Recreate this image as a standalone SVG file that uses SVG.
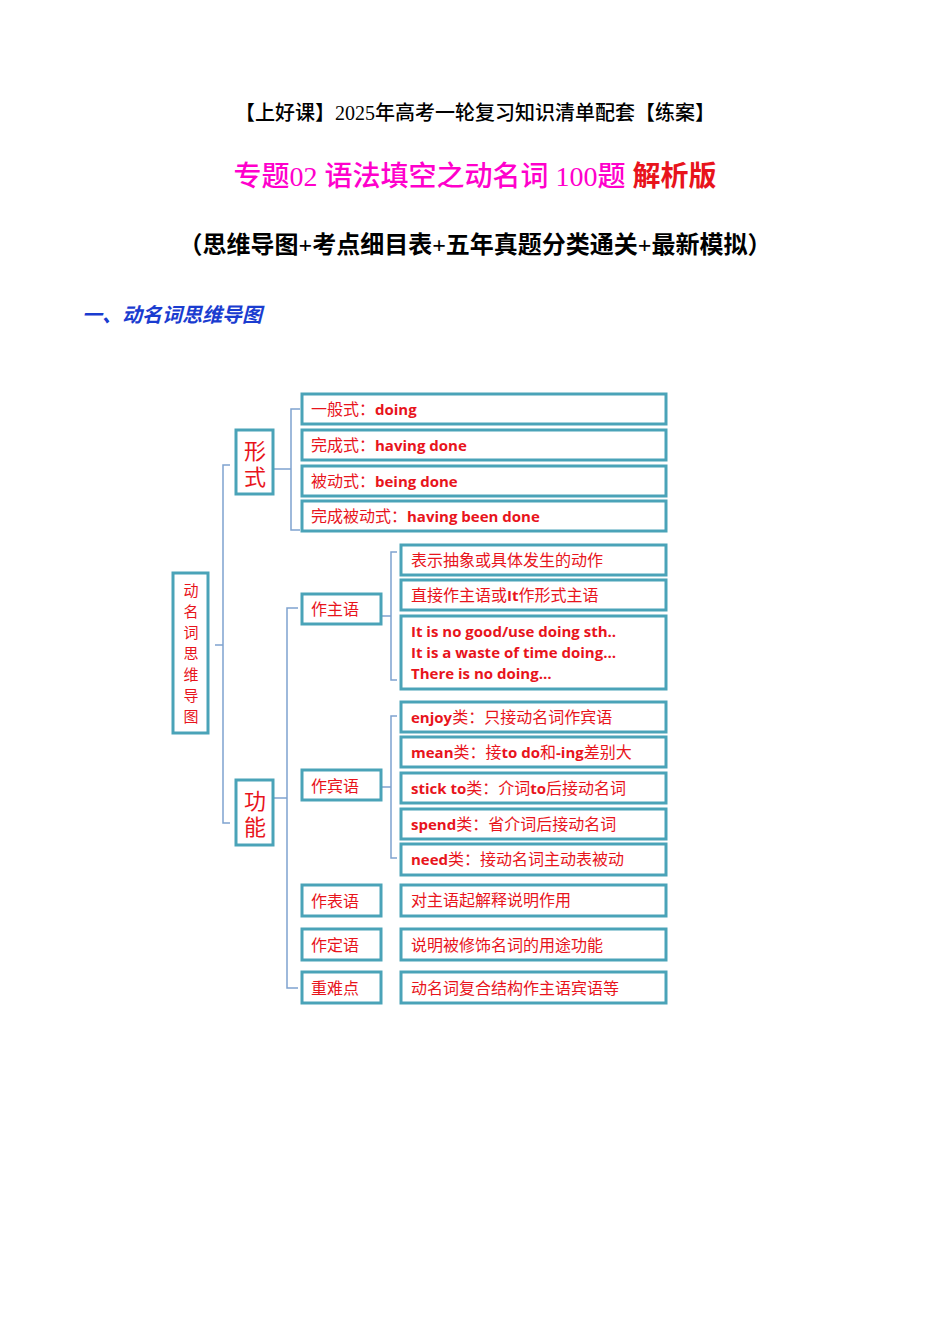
<svg xmlns="http://www.w3.org/2000/svg" width="950" height="1344" viewBox="0 0 950 1344">
<style>
.b{fill:#fff;stroke:#4aa3b8;stroke-width:3}
.t{fill:#e8141c;font-family:"Noto Sans CJK SC","Liberation Serif",serif;font-size:16px}
.r{font-size:15px}
.big{font-size:22px}
.e{font-family:"Open Sans","Noto Sans",sans-serif;font-weight:bold;font-size:15px}
.c{fill:none;stroke:#7fa3cf;stroke-width:1.5}
</style>
<rect width="950" height="1344" fill="#fff"/>
<text x="475" y="120" text-anchor="middle" font-family="Liberation Serif,Noto Sans CJK SC,serif" font-size="20" font-weight="500">【上好课】2025年高考一轮复习知识清单配套【练案】</text>
<text x="475" y="186" text-anchor="middle" font-family="Liberation Serif,Noto Sans CJK SC,serif" font-size="28" font-weight="500" fill="#ff00cc">专题02 语法填空之动名词 100题 <tspan fill="#e8141c" font-weight="bold">解析版</tspan></text>
<text x="475" y="253" text-anchor="middle" font-family="Liberation Serif,Noto Sans CJK SC,serif" font-size="24" font-weight="bold">（思维导图+考点细目表+五年真题分类通关+最新模拟）</text>
<text x="82" y="322" font-family="Noto Sans CJK SC,sans-serif" font-size="20" font-weight="bold" font-style="italic" fill="#1a3cd0">一、动名词思维导图</text>
<g id="connectors">
<path class="c" d="M230 465H223V823H230M215 645H223"/>
<path class="c" d="M300 409H291V530H300M274 469H291"/>
<path class="c" d="M298 608H287V988H298M274 798H287"/>
<path class="c" d="M397 552H391V680H397M382 616H391"/>
<path class="c" d="M397 716H391V858H397M382 787H391"/>
</g>
<g id="root"><rect class="b" x="173" y="573" width="35" height="160"/>
<text class="t r" x="191" y="596" text-anchor="middle">动</text><text class="t r" x="191" y="617" text-anchor="middle">名</text><text class="t r" x="191" y="638" text-anchor="middle">词</text><text class="t r" x="191" y="659" text-anchor="middle">思</text><text class="t r" x="191" y="680" text-anchor="middle">维</text><text class="t r" x="191" y="701" text-anchor="middle">导</text><text class="t r" x="191" y="722" text-anchor="middle">图</text></g>
<g id="xingshi"><rect class="b" x="236" y="430" width="37" height="64"/><text class="t big" x="255" y="459" text-anchor="middle">形</text><text class="t big" x="255" y="485" text-anchor="middle">式</text></g>
<g id="gongneng"><rect class="b" x="236" y="780" width="37" height="65"/><text class="t big" x="255" y="809" text-anchor="middle">功</text><text class="t big" x="255" y="835" text-anchor="middle">能</text></g>
<g id="f1"><rect class="b" x="302" y="394" width="364" height="30"/><text class="t" x="311" y="415">一般式：<tspan class="e">doing</tspan></text></g>
<g id="f2"><rect class="b" x="302" y="430" width="364" height="30"/><text class="t" x="311" y="451">完成式：<tspan class="e">having done</tspan></text></g>
<g id="f3"><rect class="b" x="302" y="466" width="364" height="30"/><text class="t" x="311" y="487">被动式：<tspan class="e">being done</tspan></text></g>
<g id="f4"><rect class="b" x="302" y="501" width="364" height="30"/><text class="t" x="311" y="522">完成被动式：<tspan class="e">having been done</tspan></text></g>
<g id="zhuyu"><rect class="b" x="302" y="594" width="79" height="30"/><text class="t" x="311" y="615">作主语</text></g>
<g id="z1"><rect class="b" x="401" y="545" width="265" height="30"/><text class="t" x="411" y="566">表示抽象或具体发生的动作</text></g>
<g id="z2"><rect class="b" x="401" y="580" width="265" height="30"/><text class="t" x="411" y="601">直接作主语或<tspan class="e">It</tspan>作形式主语</text></g>
<g id="z3"><rect class="b" x="401" y="616" width="265" height="73"/><text class="t e" x="411" y="637">It is no good/use doing sth..</text><text class="t e" x="411" y="658">It is a waste of time doing…</text><text class="t e" x="411" y="679">There is no doing…</text></g>
<g id="binyu"><rect class="b" x="302" y="770" width="79" height="30"/><text class="t" x="311" y="792">作宾语</text></g>
<g id="b1"><rect class="b" x="401" y="702" width="265" height="30"/><text class="t" x="411" y="723"><tspan class="e">enjoy</tspan>类：只接动名词作宾语</text></g>
<g id="b2"><rect class="b" x="401" y="737" width="265" height="30"/><text class="t" x="411" y="758"><tspan class="e">mean</tspan>类：接<tspan class="e">to do</tspan>和<tspan class="e">-ing</tspan>差别大</text></g>
<g id="b3"><rect class="b" x="401" y="773" width="265" height="30"/><text class="t" x="411" y="794"><tspan class="e">stick to</tspan>类：介词<tspan class="e">to</tspan>后接动名词</text></g>
<g id="b4"><rect class="b" x="401" y="809" width="265" height="30"/><text class="t" x="411" y="830"><tspan class="e">spend</tspan>类：省介词后接动名词</text></g>
<g id="b5"><rect class="b" x="401" y="844" width="265" height="31"/><text class="t" x="411" y="865"><tspan class="e">need</tspan>类：接动名词主动表被动</text></g>
<g id="biaoyu"><rect class="b" x="302" y="885" width="79" height="31"/><text class="t" x="311" y="907">作表语</text></g>
<g id="by1"><rect class="b" x="401" y="885" width="265" height="31"/><text class="t" x="411" y="906">对主语起解释说明作用</text></g>
<g id="dingyu"><rect class="b" x="302" y="929" width="79" height="31"/><text class="t" x="311" y="951">作定语</text></g>
<g id="dy1"><rect class="b" x="401" y="929" width="265" height="31"/><text class="t" x="411" y="951">说明被修饰名词的用途功能</text></g>
<g id="nandian"><rect class="b" x="302" y="972" width="79" height="31"/><text class="t" x="311" y="994">重难点</text></g>
<g id="nd1"><rect class="b" x="401" y="972" width="265" height="31"/><text class="t" x="411" y="994">动名词复合结构作主语宾语等</text></g>
</svg>
